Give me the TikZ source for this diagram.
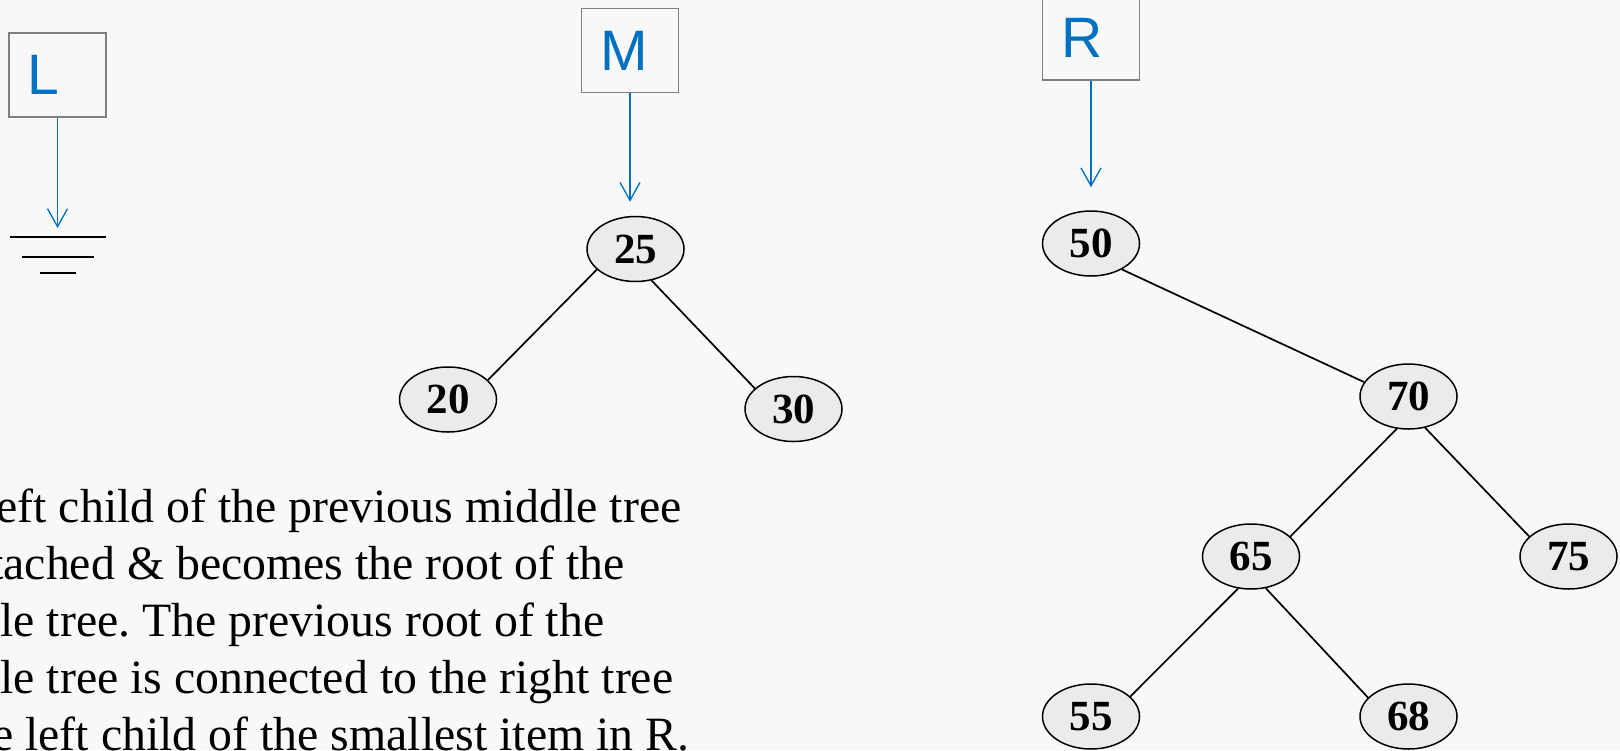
\documentclass[tikz,border=0pt]{standalone}
\usepackage{fontspec}
\setmainfont{Liberation Serif}
\newfontfamily\keyfont{Liberation Sans}
\usepackage{tikz}
\usetikzlibrary{arrows.meta,positioning,shapes.geometric}
\definecolor{paper}{HTML}{F8F8F8}
\definecolor{keyblue}{HTML}{0070C0}
\definecolor{keygray}{HTML}{7F7F7F}
\definecolor{itemfill}{HTML}{EBEBEB}
\frenchspacing

\begin{document}
\begin{tikzpicture}[x=0.5pt,y=-0.5pt,
  key/.style={draw=keygray,line width=0.65pt,text=keyblue,font=\keyfont\fontsize{28.5}{30}\selectfont,text width=30pt,inner xsep=9.25pt,inner ysep=0pt,minimum height=42pt,align=left},
  item/.style={ellipse,draw,line width=0.75pt,fill=itemfill,minimum width=48.5pt,minimum height=32.5pt,inner sep=0pt,font=\bfseries\fontsize{21.5}{21.5}\selectfont},
  ptr/.style={-{Straight Barb[length=9pt,width=10pt]},keyblue,line width=0.65pt},
  branch/.style={line width=0.85pt}]
\fill[paper] (0,0) rectangle (1620,750);
\useasboundingbox (0,0) rectangle (1620,750);
% the three tree pointers
\node[key] (lbox) at (57.5,75) {L};
\node[key] (mbox) at (630,50.5) {M};
\node[key] (rbox) at (1091,38) {R};
% L is empty: ground symbol
\coordinate (gnd) at (58,237);
\draw[line width=1pt] ([xshift=-24pt]gnd) -- ([xshift=24pt]gnd);
\draw[line width=1pt] ([xshift=-18pt,yshift=-10pt]gnd) -- ([xshift=18pt,yshift=-10pt]gnd);
\draw[line width=1pt] ([xshift=-9pt,yshift=-18pt]gnd) -- ([xshift=9pt,yshift=-18pt]gnd);
% middle tree
\node[item] (n25) at (635.5,249) {25};
\node[item] (n20) at (448,399.5) {20};
\node[item] (n30) at (793.5,409) {30};
% right tree
\node[item] (n50) at (1091,243.5) {50};
\node[item] (n70) at (1408.5,396.5) {70};
\node[item] (n65) at (1251,556.5) {65};
\node[item] (n75) at (1568.5,556.5) {75};
\node[item] (n55) at (1091,716.5) {55};
\node[item] (n68) at (1408.5,716.5) {68};
\draw[ptr,shorten >=4.5pt] (lbox.south) -- (lbox.south |- gnd);
\draw[ptr,shorten >=7pt] (mbox.south) -- (mbox.south |- n25.north);
\draw[ptr,shorten >=11.5pt] (rbox.south) -- (rbox.south |- n50.north);
\draw[branch] (n25.208) -- (n20.26);
\draw[branch] (n25.297) -- (n30.152);
\draw[branch] (n50.320) -- (n70.162);
\draw[branch] (n70.250) -- (n65.27);
\draw[branch] (n70.298) -- (n75.153);
\draw[branch] (n65.248) -- (n55.27);
\draw[branch] (n65.295) -- (n68.155);
% base of this node is its last line
\node[anchor=base west,align=left,inner sep=0pt,font=\fontsize{23.9}{28.5}\selectfont] (note) at (0,750)
  {\hspace*{-0.08em}eft child of the previous middle tree\\
   \hspace*{-0.21em}tached \& becomes the root of the\\
   le tree. The previous root of the\\
   le tree is connected to the right tree\\
   \hspace*{-0.17em}e left child of the smallest item in R.};
\end{tikzpicture}
\end{document}
